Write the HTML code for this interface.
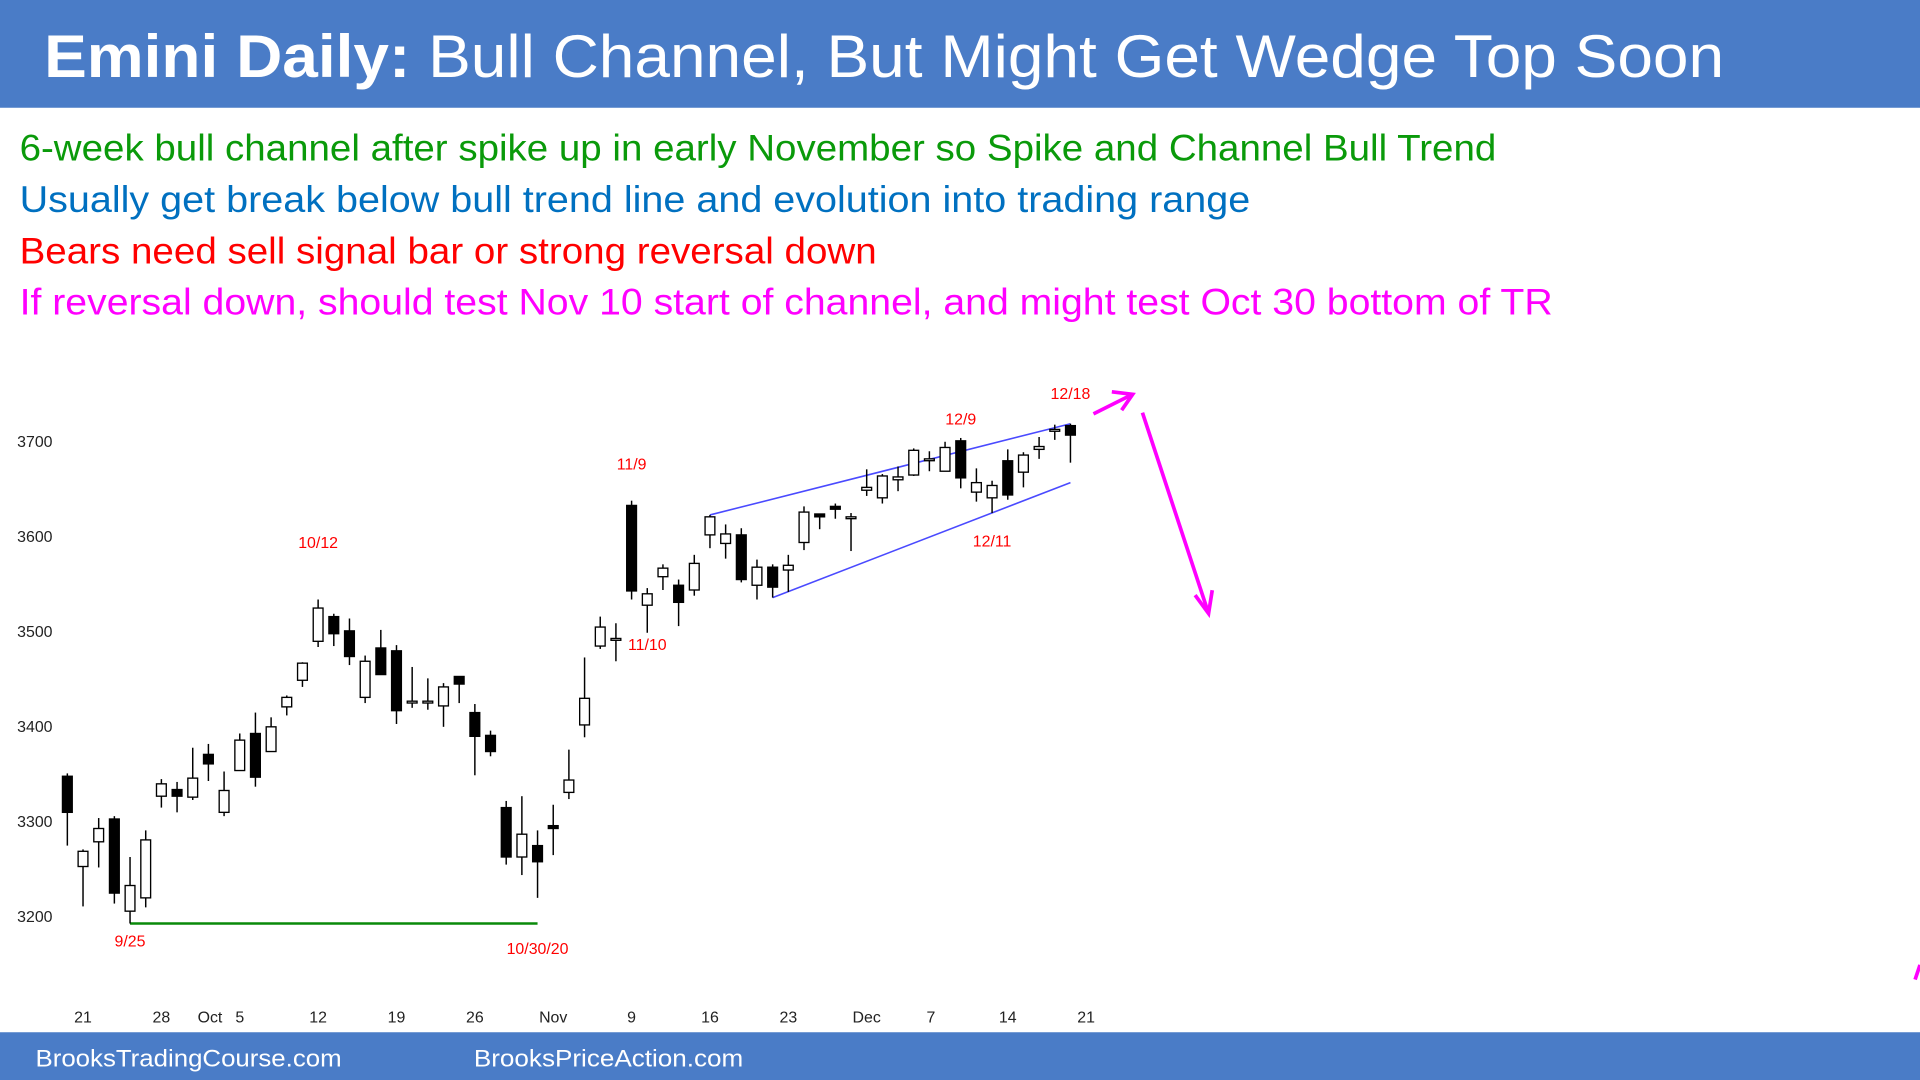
<!DOCTYPE html>
<html><head><meta charset="utf-8"><title>Emini Daily</title>
<style>
html,body{margin:0;padding:0;background:#fff;overflow:hidden}
svg{display:block}
</style></head>
<body>
<svg id="chart" width="1920" height="1080" viewBox="0 0 1568 882" xmlns="http://www.w3.org/2000/svg" font-family="Liberation Sans, Arial, sans-serif">
<rect x="0" y="0" width="1568" height="882" fill="#fff"/>
<rect x="0" y="0" width="1568" height="88" fill="#4a7cc7"/>
<text x="36" y="63" fill="#fff" font-size="49" textLength="1372" lengthAdjust="spacingAndGlyphs"><tspan font-weight="bold">Emini Daily:</tspan> Bull Channel, But Might Get Wedge Top Soon</text>
<g font-size="30">
<text x="16" y="131" fill="#0a9a0a" textLength="1206" lengthAdjust="spacingAndGlyphs">6-week bull channel after spike up in early November so Spike and Channel Bull Trend</text>
<text x="16" y="173" fill="#0070c0" textLength="1005" lengthAdjust="spacingAndGlyphs">Usually get break below bull trend line and evolution into trading range</text>
<text x="16" y="215" fill="#ff0000" textLength="700" lengthAdjust="spacingAndGlyphs">Bears need sell signal bar or strong reversal down</text>
<text x="16" y="257" fill="#ff00ff" textLength="1252" lengthAdjust="spacingAndGlyphs">If reversal down, should test Nov 10 start of channel, and might test Oct 30 bottom of TR</text>
</g>
<g id="yaxis" font-size="13" fill="#222"></g>
<g id="xaxis" font-size="13" fill="#222"></g>
<g id="lines"></g>
<g id="candles"></g>
<g id="labels" font-size="13" fill="#ff0000" text-anchor="middle"></g>
<g stroke="#ff00ff" stroke-width="3" fill="none">
<line x1="893" y1="338" x2="925" y2="322"/>
<polyline points="908,320 925,322 916,335"/>
<line x1="933" y1="337" x2="987" y2="501"/>
<polyline points="976,486 987,501 990,482"/>
<line x1="1568" y1="788" x2="1564" y2="800"/>
</g>
<rect x="0" y="843" width="1568" height="39" fill="#4a7cc7"/>
<text x="29" y="871" fill="#fff" font-size="20" textLength="250" lengthAdjust="spacingAndGlyphs">BrooksTradingCourse.com</text>
<text x="387" y="871" fill="#fff" font-size="20" textLength="220" lengthAdjust="spacingAndGlyphs">BrooksPriceAction.com</text>
</svg>
<script>
const opens = [3347,3252,3278,3302,3205,3219,3326,3333,3325,3370,3309,3353,3392,3373,3420,3448,3489,3515,3500,3430,3482,3479,3426,3426,3421,3452,3414,3390,3314,3262,3274,3295,3330,3401,3484,3492,3632,3527,3557,3548,3543,3601,3592,3601,3548,3567,3564,3593,3623,3631,3620,3648,3640,3659,3664,3681,3668,3700,3646,3640,3679,3667,3691,3712,3716];
const highs = [3350,3270,3303,3305,3262,3290,3344,3341,3377,3381,3352,3392,3414,3409,3432,3467,3533,3518,3513,3474,3501,3485,3462,3450,3445,3452,3423,3395,3321,3326,3290,3317,3375,3472,3515,3508,3637,3545,3570,3554,3580,3622,3612,3608,3575,3570,3580,3631,3623,3634,3624,3670,3665,3673,3692,3689,3699,3703,3671,3658,3691,3688,3704,3717,3718];
const lows = [3274,3210,3251,3213,3192,3209,3314,3309,3322,3342,3305,3353,3336,3373,3411,3441,3483,3484,3464,3424,3454,3402,3419,3417,3399,3424,3348,3368,3254,3243,3219,3264,3323,3388,3481,3468,3533,3498,3543,3505,3537,3587,3576,3551,3533,3535,3541,3585,3607,3618,3584,3642,3634,3647,3663,3668,3668,3650,3636,3624,3638,3651,3681,3701,3677];
const closes = [3309,3268,3292,3224,3232,3280,3339,3326,3345,3360,3332,3385,3346,3399,3430,3466,3524,3497,3473,3468,3454,3416,3426,3426,3441,3444,3389,3373,3262,3286,3257,3292,3343,3429,3504,3492,3542,3539,3566,3530,3571,3620,3602,3554,3567,3546,3569,3625,3620,3628,3620,3651,3663,3662,3690,3681,3693,3661,3656,3653,3643,3685,3694,3712,3706];
const yTicks = [3700,3600,3500,3400,3300,3200];
const xTickLabels = ["21","28","Oct","5","12","19","26","Nov","9","16","23","Dec","7","14","21"];
const xTickIndex = [1,6,9.1,11,16,21,26,31,36,41,46,51,55.1,60,65];
const annotLabels = ["10/12","9/25","10/30/20","11/9","11/10","12/9","12/11","12/18"];
const annotIndex = [16,4,30,36,37,57,59,64];
const annotPrice = [3587,3168,3160,3670,3480,3717,3589,3744];

const NS = "http://www.w3.org/2000/svg";
function yScale(p){ return 360 + (3700 - p) * 0.776; }
function xScale(i){ return 55 + i * 12.8; }
function mk(tag, attrs, parent){
  const e = document.createElementNS(NS, tag);
  for (const k in attrs) e.setAttribute(k, attrs[k]);
  parent.appendChild(e); return e;
}
const yax = document.getElementById('yaxis');
yTicks.forEach(function(t){
  const el = mk('text', {x:14, y:yScale(t)+5}, yax);
  el.textContent = t;
  
  
});
const xax = document.getElementById('xaxis');
xTickLabels.forEach(function(t, j){
  const el = mk('text', {x:xScale(xTickIndex[j]), y:835, 'text-anchor':'middle'}, xax);
  el.textContent = t;
  
  
});
const lg = document.getElementById('lines');
function line(x1,y1,x2,y2,c,w,name){
  const l = mk('line', {x1:x1,y1:y1,x2:x2,y2:y2,stroke:c,'stroke-width':w}, lg);
  
  
}
line(xScale(4), yScale(3192), xScale(30), yScale(3192), '#0a8a0a', 2, 'support-line');
line(xScale(41), yScale(3622), xScale(64), yScale(3718), '#4a4aff', 1.3, 'upper-channel-line');
line(xScale(45), yScale(3535), xScale(64), yScale(3656), '#4a4aff', 1.3, 'lower-channel-line');

const cg = document.getElementById('candles');
const bw = 8;
opens.forEach(function(o, i){
  const c = closes[i], x = xScale(i);
  const g = mk('g', {}, cg);
  
  
  mk('line', {x1:x, x2:x, y1:yScale(highs[i]), y2:yScale(lows[i]), stroke:'#000', 'stroke-width':1.2}, g);
  const top = yScale(Math.max(o,c)), bot = yScale(Math.min(o,c));
  const h = Math.max(bot - top, 1.5);
  mk('rect', {x:x-bw/2, y:top, width:bw, height:h, fill:(c < o ? '#000' : '#fff'), stroke:'#000', 'stroke-width':1.1}, g);
});
const lb = document.getElementById('labels');
annotLabels.forEach(function(t, j){
  const el = mk('text', {x:xScale(annotIndex[j]), y:yScale(annotPrice[j])}, lb);
  el.textContent = t;
  
  
});
</script>
</body></html>
